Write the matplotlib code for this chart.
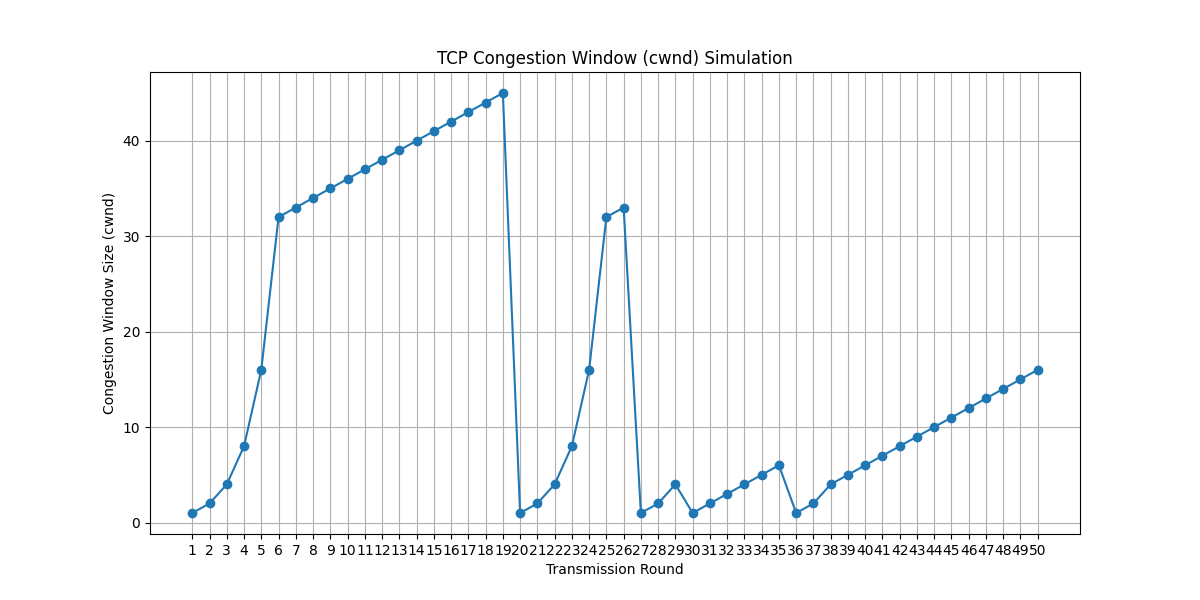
import matplotlib
matplotlib.use("Agg")
import matplotlib.pyplot as plt

rounds = list(range(1, 51))
cwnd = [1, 2, 4, 8, 16, 32, 33, 34, 35, 36,
        37, 38, 39, 40, 41, 42, 43, 44, 45, 1,
        2, 4, 8, 16, 32, 33, 1, 2, 4, 1,
        2, 3, 4, 5, 6, 1, 2, 4, 5, 6,
        7, 8, 9, 10, 11, 12, 13, 14, 15, 16]

plt.figure(figsize=(12, 6), dpi=100)
plt.plot(rounds, cwnd, marker="o")
plt.title("TCP Congestion Window (cwnd) Simulation")
plt.xlabel("Transmission Round")
plt.ylabel("Congestion Window Size (cwnd)")
plt.xticks(rounds)
plt.grid(True)
plt.savefig("out.png", dpi=100)
plt.close()
